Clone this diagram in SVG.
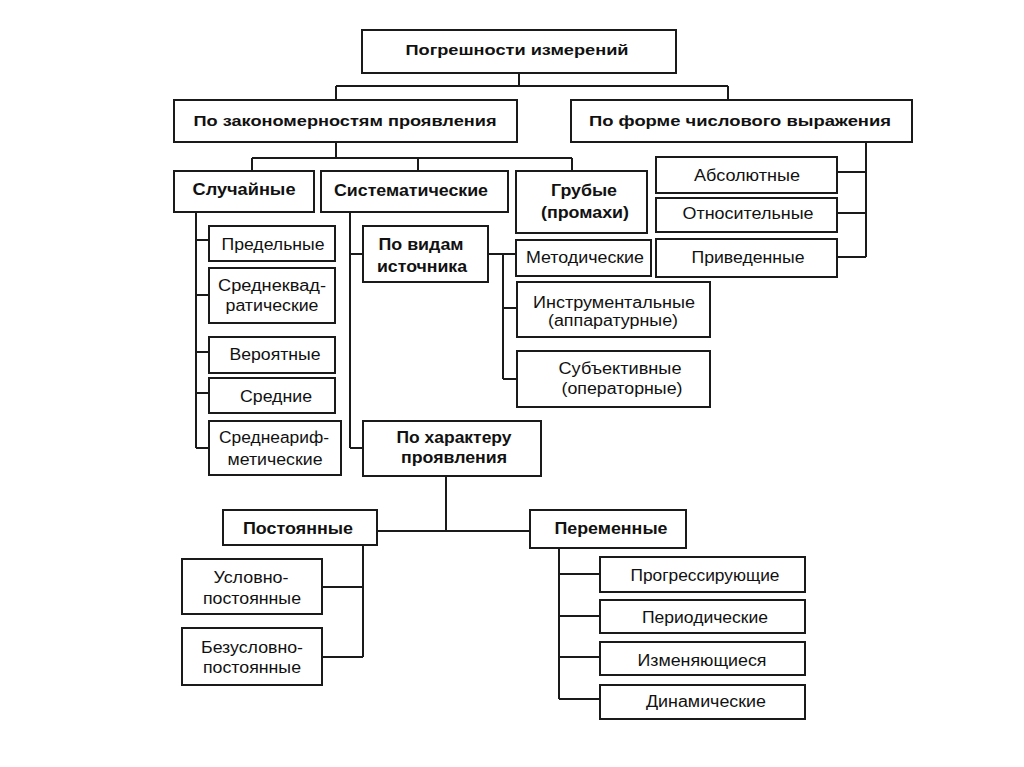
<svg xmlns="http://www.w3.org/2000/svg" width="1024" height="767" viewBox="0 0 1024 767">
<style>
.b{fill:#fff;stroke:#1a1a1a;stroke-width:2}
.c{fill:none;stroke:#1a1a1a;stroke-width:2}
text{font-family:"Liberation Sans",Arial,sans-serif;font-size:16px;fill:#111;text-anchor:middle}
.h{font-weight:bold}
.t{font-size:15px}
</style>
<rect width="1024" height="767" fill="#fff"/>
<g id="connectors">
<path class="c" d="M519 73V86M336 86H728M336 86V100M728 86V100"/>
<path class="c" d="M336 142V158M252 158H572M252 158V171M418 158V171M572 158V171"/>
<path class="c" d="M866 142V257M837 172H866M837 213H866M837 257H866"/>
<path class="c" d="M196 212V448M196 240H209M196 295H209M196 352H209M196 393H209M196 448H209"/>
<path class="c" d="M350 212V448M350 254H363M350 448H363"/>
<path class="c" d="M488 254H503M503 254V379M503 254H516M503 308H517M503 379H517"/>
<path class="c" d="M446 476V531M377 531H530"/>
<path class="c" d="M363 545V657M322 587H363M322 657H363"/>
<path class="c" d="M559 548V699M559 574H600M559 616H600M559 657H600M559 699H600"/>
</g>
<g id="root"><rect class="b" x="362" y="30" width="314" height="43"/><text class="h t" x="517" y="55" textLength="223" lengthAdjust="spacingAndGlyphs">Погрешности измерений</text></g>
<g id="zak"><rect class="b" x="174" y="100" width="343" height="42"/><text class="h t" x="345" y="126" textLength="303" lengthAdjust="spacingAndGlyphs">По закономерностям проявления</text></g>
<g id="forma"><rect class="b" x="571" y="100" width="341" height="42"/><text class="h t" x="740" y="126" textLength="302" lengthAdjust="spacingAndGlyphs">По форме числового выражения</text></g>
<g id="sluch"><rect class="b" x="174" y="171" width="140" height="41"/><text class="h" x="244" y="195" textLength="103" lengthAdjust="spacingAndGlyphs">Случайные</text></g>
<g id="sist"><rect class="b" x="321" y="171" width="187" height="41"/><text class="h" x="411" y="196" textLength="154" lengthAdjust="spacingAndGlyphs">Систематические</text></g>
<g id="grub"><rect class="b" x="516" y="171" width="131" height="62"/><text class="h" x="584" y="196" textLength="66" lengthAdjust="spacingAndGlyphs">Грубые</text><text class="h" x="585" y="218" textLength="88" lengthAdjust="spacingAndGlyphs">(промахи)</text></g>
<g id="abs"><rect class="b" x="656" y="157" width="181" height="36"/><text x="747" y="181" textLength="106" lengthAdjust="spacingAndGlyphs">Абсолютные</text></g>
<g id="otn"><rect class="b" x="656" y="198" width="181" height="34"/><text x="748" y="219" textLength="131" lengthAdjust="spacingAndGlyphs">Относительные</text></g>
<g id="priv"><rect class="b" x="656" y="239" width="181" height="38"/><text x="748" y="263" textLength="113" lengthAdjust="spacingAndGlyphs">Приведенные</text></g>
<g id="pred"><rect class="b" x="209" y="226" width="126" height="35"/><text x="273" y="250" textLength="103" lengthAdjust="spacingAndGlyphs">Предельные</text></g>
<g id="skv"><rect class="b" x="209" y="268" width="126" height="55"/><text x="272" y="291" textLength="108" lengthAdjust="spacingAndGlyphs">Среднеквад-</text><text x="272" y="311" textLength="93" lengthAdjust="spacingAndGlyphs">ратические</text></g>
<g id="ver"><rect class="b" x="209" y="337" width="126" height="36"/><text x="275" y="360" textLength="91" lengthAdjust="spacingAndGlyphs">Вероятные</text></g>
<g id="sred"><rect class="b" x="209" y="378" width="126" height="35"/><text x="276" y="402" textLength="72" lengthAdjust="spacingAndGlyphs">Средние</text></g>
<g id="sar"><rect class="b" x="209" y="421" width="132" height="54"/><text x="274" y="443" textLength="110" lengthAdjust="spacingAndGlyphs">Среднеариф-</text><text x="275" y="465" textLength="95" lengthAdjust="spacingAndGlyphs">метические</text></g>
<g id="vidy"><rect class="b" x="363" y="226" width="125" height="56"/><text class="h" x="421" y="250" textLength="85" lengthAdjust="spacingAndGlyphs">По видам</text><text class="h" x="422" y="272" textLength="90" lengthAdjust="spacingAndGlyphs">источника</text></g>
<g id="met"><rect class="b" x="516" y="240" width="135" height="36"/><text x="585" y="263" textLength="118" lengthAdjust="spacingAndGlyphs">Методические</text></g>
<g id="instr"><rect class="b" x="517" y="282" width="193" height="55"/><text x="614" y="308" textLength="162" lengthAdjust="spacingAndGlyphs">Инструментальные</text><text x="613" y="326" textLength="130" lengthAdjust="spacingAndGlyphs">(аппаратурные)</text></g>
<g id="subj"><rect class="b" x="517" y="351" width="193" height="56"/><text x="620" y="374" textLength="123" lengthAdjust="spacingAndGlyphs">Субъективные</text><text x="622" y="394" textLength="121" lengthAdjust="spacingAndGlyphs">(операторные)</text></g>
<g id="har"><rect class="b" x="363" y="421" width="178" height="55"/><text class="h" x="454" y="443" textLength="115" lengthAdjust="spacingAndGlyphs">По характеру</text><text class="h" x="454" y="463" textLength="106" lengthAdjust="spacingAndGlyphs">проявления</text></g>
<g id="post"><rect class="b" x="223" y="510" width="154" height="35"/><text class="h" x="298" y="534" textLength="110" lengthAdjust="spacingAndGlyphs">Постоянные</text></g>
<g id="usl"><rect class="b" x="182" y="559" width="140" height="55"/><text x="251" y="583" textLength="75" lengthAdjust="spacingAndGlyphs">Условно-</text><text x="252" y="604" textLength="98" lengthAdjust="spacingAndGlyphs">постоянные</text></g>
<g id="bez"><rect class="b" x="182" y="628" width="140" height="57"/><text x="252" y="653" textLength="102" lengthAdjust="spacingAndGlyphs">Безусловно-</text><text x="252" y="673" textLength="98" lengthAdjust="spacingAndGlyphs">постоянные</text></g>
<g id="per"><rect class="b" x="530" y="510" width="156" height="38"/><text class="h" x="611" y="534" textLength="113" lengthAdjust="spacingAndGlyphs">Переменные</text></g>
<g id="prog"><rect class="b" x="600" y="557" width="205" height="35"/><text x="705" y="581" textLength="149" lengthAdjust="spacingAndGlyphs">Прогрессирующие</text></g>
<g id="period"><rect class="b" x="600" y="600" width="205" height="33"/><text x="705" y="623" textLength="126" lengthAdjust="spacingAndGlyphs">Периодические</text></g>
<g id="izm"><rect class="b" x="600" y="642" width="205" height="33"/><text x="702" y="666" textLength="129" lengthAdjust="spacingAndGlyphs">Изменяющиеся</text></g>
<g id="din"><rect class="b" x="600" y="685" width="205" height="34"/><text x="706" y="707" textLength="120" lengthAdjust="spacingAndGlyphs">Динамические</text></g>
</svg>
